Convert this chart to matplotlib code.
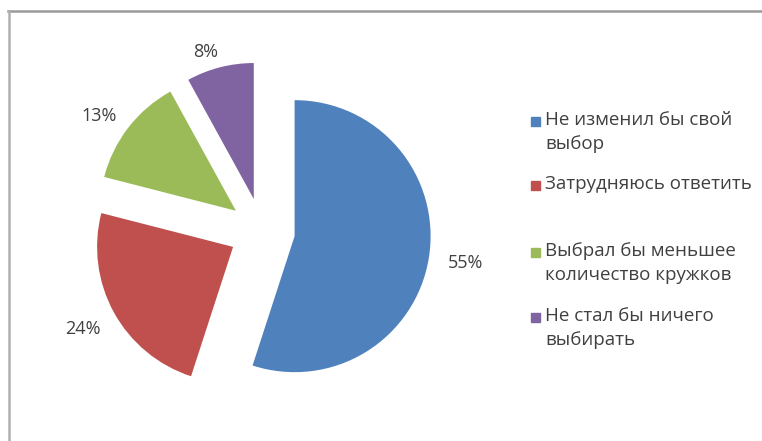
import matplotlib
matplotlib.use('Agg')
import matplotlib.pyplot as plt
from matplotlib.lines import Line2D
from matplotlib.patches import Rectangle
import numpy as np

plt.rcParams['font.family'] = ['Open Sans', 'DejaVu Sans']

# survey answers: "would you change your choice of clubs?"
categories = ['Не изменил бы свой\nвыбор',
              'Затрудняюсь ответить',
              'Выбрал бы меньшее\nколичество кружков',
              'Не стал бы ничего\nвыбирать']
shares = [55, 24, 13, 8]
colors = ['#4F81BD', '#C0504D', '#9BBB59', '#8064A2']

W, H = 762, 441
fig = plt.figure(figsize=(W / 100, H / 100), dpi=100)
ax = fig.add_axes([0, 0, 1, 1])

# pie drawn in pixel units: centre, radius and explode offsets are in px
cx, cy, rad = 262, H - 231, 136
wedges, texts, autotexts = ax.pie(
    shares, colors=colors, startangle=90, counterclock=False,
    radius=rad, center=(cx, cy), explode=[33] * len(shares),
    autopct='%.0f%%', pctdistance=1.23,
    wedgeprops=dict(linewidth=0),
    textprops=dict(color='#404040', fontsize=13))

# push each percentage label out from its wedge, small nudges in px
label_r = [1.27, 1.26, 1.23, 1.14]
label_dx = [0, 0, -5, -10]
label_dy = [0, 0, -8, -3]
for w, t, k, dx, dy in zip(wedges, autotexts, label_r, label_dx, label_dy):
    ang = np.deg2rad(0.5 * (w.theta1 + w.theta2))
    x0, y0 = w.center
    t.set_position((x0 + k * w.r * np.cos(ang) + dx,
                    y0 + k * w.r * np.sin(ang) + dy))
    t.set_ha('center')
    t.set_va('center')

ax.set_xlim(0, W)
ax.set_ylim(0, H)
ax.set_aspect('auto')
ax.axis('off')

# legend on the right, marker beside the first line of each entry
leg_y = [121, 185, 252, 317]
for lab, c, y in zip(categories, colors, leg_y):
    fig.patches.append(Rectangle((531 / W, (H - y - 5) / H), 9 / W, 9 / H,
                                 transform=fig.transFigure, color=c))
    fig.text(545 / W, (H - y + 10) / H, lab, fontsize=13.5, color='#404040',
             va='top', ha='left', linespacing=1.45)

# chart area border (top and left edges visible)
fig.lines.append(Line2D([8 / W, 1], [1 - 11 / H, 1 - 11 / H],
                        transform=fig.transFigure, color='#9a9a9a', lw=1.8))
fig.lines.append(Line2D([9 / W, 9 / W], [0, 1 - 11 / H],
                        transform=fig.transFigure, color='#b0b0b0', lw=1.8))

fig.savefig('out.png', dpi=100, facecolor='white')
